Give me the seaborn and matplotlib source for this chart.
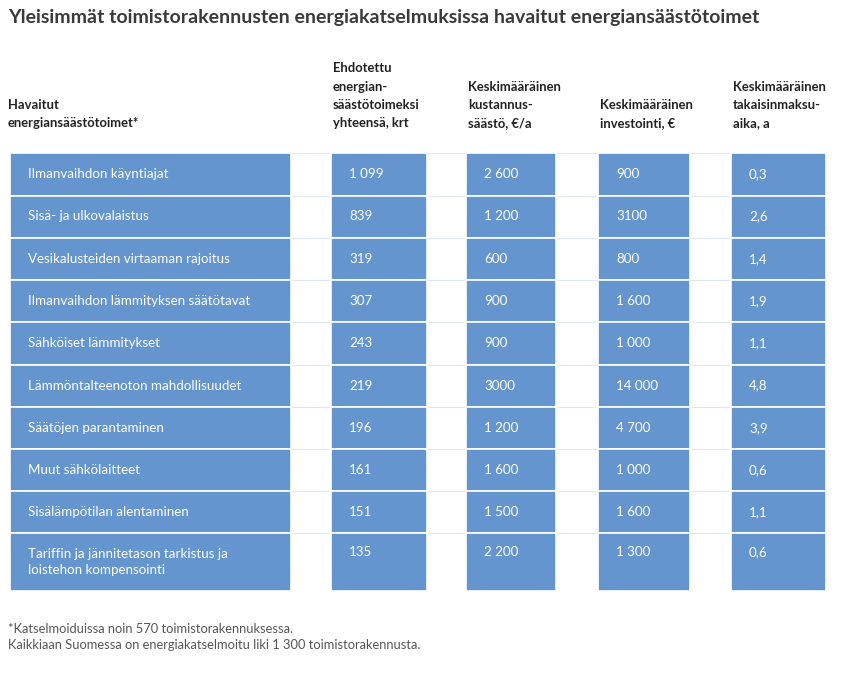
import matplotlib
matplotlib.use("Agg")
import matplotlib.pyplot as plt
import seaborn as sns

# table content
measures = [
    "Ilmanvaihdon käyntiajat",
    "Sisä- ja ulkovalaistus",
    "Vesikalusteiden virtaaman rajoitus",
    "Ilmanvaihdon lämmityksen säätötavat",
    "Sähköiset lämmitykset",
    "Lämmöntalteenoton mahdollisuudet",
    "Säätöjen parantaminen",
    "Muut sähkölaitteet",
    "Sisälämpötilan alentaminen",
    "Tariffin ja jännitetason tarkistus ja\nloistehon kompensointi",
]
suggested = ["1 099", "839", "319", "307", "243", "219", "196", "161", "151", "135"]
saving = ["2 600", "1 200", "600", "900", "900", "3000", "1 200", "1 600", "1 500", "2 200"]
investment = ["900", "3100", "800", "1 600", "1 000", "14 000", "4 700", "1 000", "1 600", "1 300"]
payback = ["0,3", "2,6", "1,4", "1,9", "1,1", "4,8", "3,9", "0,6", "1,1", "0,6"]

headers = [
    "Havaitut\nenergiansäästötoimet*",
    "Ehdotettu\nenergian-\nsäästötoimeksi\nyhteensä, krt",
    "Keskimääräinen\nkustannus-\nsäästö, €/a",
    "Keskimääräinen\ninvestointi, €",
    "Keskimääräinen\ntakaisinmaksu-\naika, a",
]
title = "Yleisimmät toimistorakennusten energiakatselmuksissa havaitut energiansäästötoimet"
footnote = ("*Katselmoiduissa noin 570 toimistorakennuksessa.\n"
            "Kaikkiaan Suomessa on energiakatselmoitu liki 1 300 toimistorakennusta.")

columns = [measures, suggested, saving, investment, payback]

sns.set_theme(style="white")
plt.rcParams["font.family"] = ["Lato", "DejaVu Sans"]

BLUE = "#6495ce"
col_left = [10, 331, 466, 598, 731]
col_width = [281, 96, 90, 92, 95]
row_edges = [153, 195.5, 237.5, 280, 322, 364.5, 406.5, 449, 491, 533, 591]

fig = plt.figure(figsize=(8.5, 6.82), dpi=100)
ax = fig.add_axes([0, 0, 1, 1])
ax.set_xlim(0, 850)
ax.set_ylim(682, 0)
ax.axis("off")

tops = row_edges[:-1]
heights = [b - t for t, b in zip(row_edges[:-1], row_edges[1:])]

# faint row rules running across the gaps
for y in row_edges[:-1]:
    ax.plot([col_left[0], col_left[-1] + col_width[-1]], [y, y],
            color="#dfe8f3", lw=0.8, zorder=1)

for ci, values in enumerate(columns):
    ax.barh(tops, [col_width[ci]] * len(tops), height=heights, left=col_left[ci],
            align="edge", color=BLUE, edgecolor="white", linewidth=1.2, zorder=2)
    for ri, val in enumerate(values):
        yc = tops[ri] + heights[ri] / 2
        # numbers line up with the first line of a two-line label
        if ci > 0 and "\n" in measures[ri]:
            yc -= 9.5
        ax.text(col_left[ci] + 18, yc, val, color="white", fontsize=9.6,
                va="center", ha="left", linespacing=1.45, zorder=3)

for ci, h in enumerate(headers):
    x = 8 if ci == 0 else col_left[ci] + 2
    ax.text(x, 129, h, color="#222222", fontsize=9.4, fontweight="bold",
            va="bottom", ha="left", linespacing=1.62)

ax.text(8, 17, title, color="#3a3a3a", fontsize=14, fontweight="bold",
        va="center", ha="left")
ax.text(8, 637, footnote, color="#555555", fontsize=9.3,
        va="center", ha="left", linespacing=1.4)

fig.savefig("out.png", dpi=100)
